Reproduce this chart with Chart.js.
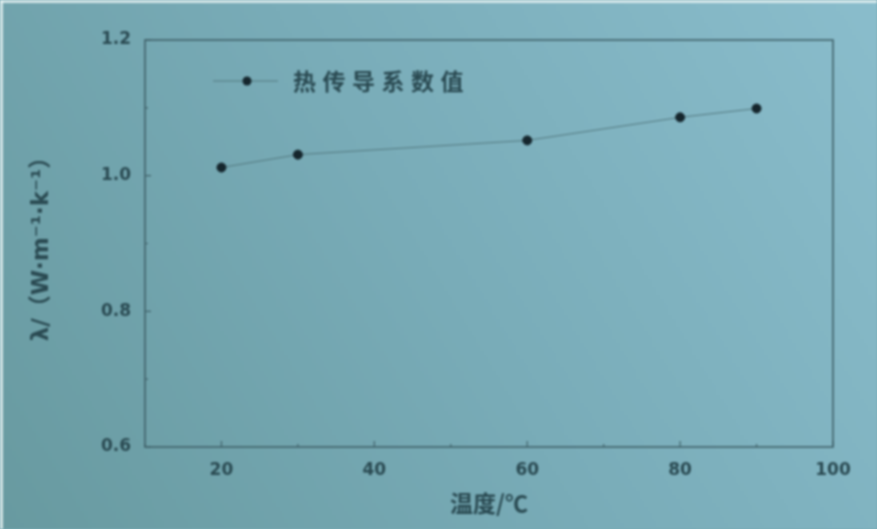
<!DOCTYPE html>
<html>
<head>
<meta charset="utf-8">
<script src="https://cdn.jsdelivr.net/npm/chart.js@4/dist/chart.umd.min.js"></script>
<style>
  html, body { margin: 0; padding: 0; background: #78aab5; }
  #wrap { width: 877px; height: 529px; position: relative; filter: blur(0.9px); }
  canvas { display: block; }
</style>
</head>
<body>
<div id="wrap"><canvas id="c" width="877" height="529"></canvas></div>
<script>
// Thermal conductivity vs temperature
const temperatures = [20, 30, 60, 80, 90];
const conductivity = [1.012, 1.031, 1.052, 1.086, 1.099];
const xTicks = [20, 40, 60, 80, 100];
const yTicks = [0.6, 0.8, 1.0, 1.2];
const seriesName = '热传导系数值';
const xTitle = '温度/℃';
const yTitle = 'λ/（W·m⁻¹·k⁻¹）';

const ink = '#2a4a52';
const font = "'DejaVu Sans', 'Noto Sans CJK SC', sans-serif";

// Soft photographic-looking backdrop
const backdrop = {
  id: 'backdrop',
  beforeDraw(chart) {
    const { ctx, width, height } = chart;
    const g = ctx.createLinearGradient(0, height, width, 0);
    g.addColorStop(0, '#689aa0');
    g.addColorStop(0.5, '#79acb8');
    g.addColorStop(1, '#8abdcc');
    ctx.save();
    ctx.fillStyle = g;
    ctx.fillRect(0, 0, width, height);
    ctx.fillStyle = 'rgba(235,245,245,0.8)';
    ctx.fillRect(0, 0, width, 3);
    ctx.fillRect(0, 0, 3, height);
    ctx.restore();
  }
};

// Frame around plot area plus inward major/minor ticks
const frame = {
  id: 'frame',
  afterDatasetsDraw(chart) {
    const { ctx, chartArea: a, scales: { x, y } } = chart;
    ctx.save();
    ctx.strokeStyle = '#40626a';
    ctx.lineWidth = 1.6;
    ctx.strokeRect(a.left, a.top, a.right - a.left, a.bottom - a.top);
    ctx.lineWidth = 1.2;
    ctx.beginPath();
    for (let v = 10; v <= 100; v += 10) {
      const px = x.getPixelForValue(v);
      const len = (v % 20 === 0) ? 6 : 3;
      ctx.moveTo(px, a.bottom); ctx.lineTo(px, a.bottom - len);
    }
    for (let v = 0.6; v <= 1.2001; v += 0.1) {
      const py = y.getPixelForValue(v);
      const major = Math.abs(Math.round(v * 10) % 2) === 0;
      const len = major ? 6 : 3;
      ctx.moveTo(a.left, py); ctx.lineTo(a.left + len, py);
    }
    ctx.stroke();
    ctx.restore();
  }
};

// Legend entry: line segment with a dot, then the label
const legendLine = {
  id: 'legendLine',
  afterDraw(chart) {
    const { ctx } = chart;
    const ds = chart.data.datasets[0];
    const yy = 81;
    ctx.save();
    ctx.strokeStyle = ds.borderColor;
    ctx.lineWidth = 1;
    ctx.beginPath(); ctx.moveTo(213, yy); ctx.lineTo(278, yy); ctx.stroke();
    ctx.fillStyle = ds.pointBackgroundColor;
    ctx.beginPath(); ctx.arc(247, yy, 4.5, 0, Math.PI * 2); ctx.fill();
    ctx.fillStyle = ink;
    ctx.font = "bold 23px 'Noto Sans CJK SC', sans-serif";
    ctx.textBaseline = 'middle';
    ctx.textAlign = 'left';
    let xx = 293;
    for (const ch of ds.label) { ctx.fillText(ch, xx, yy); xx += 29.5; }
    ctx.restore();
  }
};

new Chart(document.getElementById('c'), {
  type: 'line',
  data: {
    datasets: [{
      label: seriesName,
      data: temperatures.map((t, i) => ({ x: t, y: conductivity[i] })),
      borderColor: '#52787f',
      borderWidth: 1,
      pointBackgroundColor: '#15262d',
      pointBorderColor: '#15262d',
      pointRadius: 4.5,
      tension: 0
    }]
  },
  options: {
    responsive: false,
    animation: false,
    layout: { padding: { top: 40, right: 44, left: 0, bottom: 0 } },
    plugins: { legend: { display: false }, tooltip: { enabled: false } },
    scales: {
      x: {
        type: 'linear',
        min: 10, max: 100,
        afterBuildTicks(s) { s.ticks = xTicks.map(v => ({ value: v })); },
        afterFit(s) { s.height = 82; },
        grid: { display: false, drawTicks: false },
        border: { display: false },
        ticks: { color: ink, padding: 13, font: { family: font, size: 17, weight: 'bold' } },
        title: { display: true, text: xTitle, color: ink, padding: { top: 4, bottom: 12 },
                 font: { family: "'Noto Sans CJK SC', sans-serif", size: 23, weight: 'bold' } }
      },
      y: {
        min: 0.6, max: 1.2,
        afterBuildTicks(s) { s.ticks = yTicks.map(v => ({ value: v })); },
        afterFit(s) { s.width = 145; },
        grid: { display: false, drawTicks: false },
        border: { display: false },
        ticks: { color: ink, padding: 14, font: { family: font, size: 17, weight: 'bold' },
                 callback: v => v.toFixed(1) },
        title: { display: true, text: yTitle, color: ink, padding: { top: 28, bottom: 0 },
                 font: { family: font, size: 23, weight: 'bold' } }
      }
    }
  },
  plugins: [backdrop, frame, legendLine]
});
</script>
</body>
</html>
